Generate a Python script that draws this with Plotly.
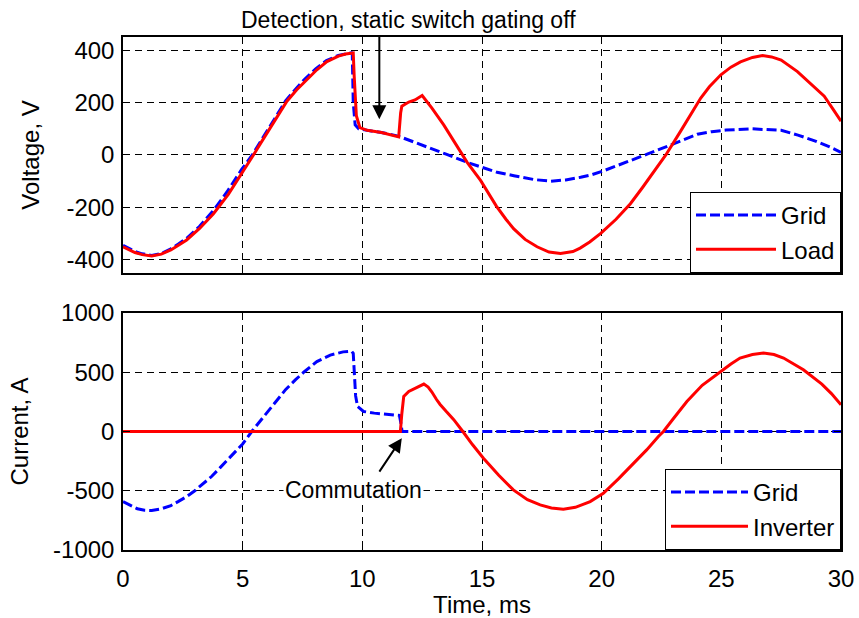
import plotly.graph_objects as go

# ---- Data (time in ms) ----
t_vgrid = [0, 0.5, 0.8, 1.2, 1.6, 2.0, 2.3, 2.66, 3.2, 3.75, 4.35, 4.95, 5.4, 5.75, 6.1, 6.45,
           6.8, 7.2, 7.6, 8.05, 8.5, 9.0, 9.3, 9.55,
           9.58, 9.62, 9.7, 9.85, 10.2, 10.8, 11.5, 12.43, 13.5, 14.38, 14.94, 15.63, 16.33,
           16.8, 17.2, 17.87, 18.5, 19.12, 19.6, 20.03, 20.6, 21.2, 21.9, 22.6, 23.3, 24.0,
           24.6, 25.2, 26.23, 26.9, 27.5, 28.2, 28.9, 29.5, 30.0]
v_grid = [-345, -368, -377, -383, -376, -358, -340, -318, -272, -215, -140, -56, 0, 52, 104, 155,
          207, 250, 290, 328, 360, 380, 387, 390,
          385, 200, 115, 100, 94, 86, 72, 41, 3, -28, -45, -66, -79,
          -88, -94, -100, -95, -85, -75, -62, -43, -22, 3, 28, 55, 79,
          89, 95, 100, 98, 94, 76, 54, 32, 10]

t_vload = [0, 0.5, 0.8, 1.2, 1.6, 2.0, 2.3, 2.66, 3.2, 3.78, 4.4, 5.0, 5.45, 5.8, 6.15, 6.5,
           6.85, 7.25, 7.68, 8.1, 8.52, 9.0, 9.3, 9.5,
           9.62, 9.66, 9.75, 9.9, 10.2, 10.8, 11.52, 11.6, 11.65, 11.94, 12.2, 12.5, 12.9, 13.4,
           13.82, 14.38, 14.94, 15.3, 15.6, 16.0, 16.33, 16.8, 17.3, 17.8, 18.28, 18.8, 19.1,
           19.5, 19.96, 20.6, 21.2, 21.7, 22.19, 22.68, 23.3, 23.7, 24.14, 24.5, 24.98, 25.4,
           25.8, 26.3, 26.72, 27.1, 27.5, 28.18, 28.7, 29.3, 29.7, 30.0]
v_load = [-350, -372, -380, -385, -378, -362, -345, -324, -280, -224, -150, -66, 0, 52, 104, 155,
          205, 248, 287, 325, 356, 377, 385, 387,
          389, 300, 150, 104, 94, 86, 69, 160, 186, 202, 210, 227, 180, 115,
          54, -28, -97, -150, -195, -245, -282, -322, -350, -370, -376, -368, -355,
          -332, -299, -245, -186, -125, -60, 0, 91, 150, 217, 260, 306, 335,
          355, 372, 379, 374, 362, 318, 275, 224, 170, 129]

t_igrid = [0, 0.3, 0.6, 0.9, 1.2, 1.6, 2.0, 2.3, 2.66, 3.0, 3.3, 3.7, 4.06, 4.6, 5.0, 5.38,
           5.8, 6.15, 6.8, 7.2, 7.55, 8.1, 8.66, 9.2,
           9.55, 9.62, 9.66, 9.72, 9.8, 10.05, 10.5, 11.0, 11.55, 11.62, 11.66, 30.0]
i_grid = [-592, -625, -652, -664, -667, -652, -625, -592, -549, -500, -450, -380, -305, -192, -105, 0,
          105, 200, 355, 435, 500, 590, 645, 672,
          678, 660, 450, 300, 211, 169, 155, 148, 135, 60, 0, 0]

t_iinv = [0, 11.59, 11.65, 11.73, 11.94, 12.3, 12.57, 12.75, 12.9, 13.1, 13.25, 13.5, 13.82,
          14.2, 14.6, 15.06, 15.7, 16.31, 16.9, 17.43, 17.9, 18.4, 18.9, 19.52, 20.07, 20.7,
          21.33, 21.88, 22.37, 22.58, 23.0, 23.56, 24.2, 24.95, 25.4, 25.78, 26.3, 26.76, 27.2,
          27.6, 28.0, 28.43, 29.2, 29.6, 30.0]
i_inv = [0, 0, 150, 296, 338, 375, 400, 375, 335, 270, 228, 170, 100,
         0, -110, -225, -370, -493, -575, -619, -645, -656, -640, -591, -521, -400,
         -267, -155, -42, 0, 110, 253, 390, 507, 570, 620, 650, 662, 650,
         620, 575, 521, 400, 320, 226]

v_ticks = [-400, -200, 0, 200, 400]
v_ticktext = ['-400', '-200', '0', '200', '400']
i_ticks = [-1000, -500, 0, 500, 1000]
i_ticktext = ['-1000', '-500', '0', '500', '1000']
t_ticks = [0, 5, 10, 15, 20, 25, 30]

BLUE = '#0000ff'
RED = '#ff0000'
FONT = 'Liberation Sans, Arial, sans-serif'
blue_line = dict(color=BLUE, width=3, dash='10px,4px')
red_line = dict(color=RED, width=3)

fig = go.Figure()
fig.add_trace(go.Scatter(x=t_vgrid, y=v_grid, name='Grid', mode='lines', line=blue_line,
                         xaxis='x', yaxis='y', legend='legend'))
fig.add_trace(go.Scatter(x=t_vload, y=v_load, name='Load', mode='lines', line=red_line,
                         xaxis='x', yaxis='y', legend='legend'))
fig.add_trace(go.Scatter(x=t_igrid, y=i_grid, name='Grid', mode='lines', line=blue_line,
                         xaxis='x2', yaxis='y2', legend='legend2'))
fig.add_trace(go.Scatter(x=t_iinv, y=i_inv, name='Inverter', mode='lines', line=red_line,
                         xaxis='x2', yaxis='y2', legend='legend2'))

axis_common = dict(showline=True, linecolor='black', linewidth=1.5, mirror='ticks',
                   ticks='inside', ticklen=7, tickcolor='black', tickwidth=1,
                   showgrid=True, gridcolor='black', gridwidth=1, griddash='7px,5px',
                   zeroline=False, automargin=False,
                   tickfont=dict(family=FONT, size=24, color='black'))

fig.update_layout(
    width=859, height=618,
    margin=dict(l=123, r=18, t=37, b=68),
    plot_bgcolor='white', paper_bgcolor='white',
    font=dict(family=FONT, size=24, color='black'),
    xaxis=dict(domain=[0, 1], anchor='y', range=[0, 30], tickvals=t_ticks, showticklabels=False,
               **axis_common),
    yaxis=dict(domain=[0.540, 1], anchor='x', range=[-450, 450], tickvals=v_ticks,
               ticktext=v_ticktext,
               title=dict(text='Voltage, V', font=dict(size=24), standoff=20),
               ticklabelstandoff=2, **axis_common),
    xaxis2=dict(domain=[0, 1], anchor='y2', range=[0, 30], tickvals=t_ticks,
                title=dict(text='Time, ms', font=dict(size=24), standoff=6),
                ticklabelstandoff=6, **axis_common),
    yaxis2=dict(domain=[0, 0.462], anchor='x2', range=[-1000, 1000], tickvals=i_ticks,
                ticktext=i_ticktext,
                title=dict(text='Current, A', font=dict(size=24), standoff=18),
                ticklabelstandoff=2, **axis_common),
    legend=dict(x=1, y=0.540, xanchor='right', yanchor='bottom', bgcolor='white',
                bordercolor='black', borderwidth=1, itemwidth=80,
                font=dict(family=FONT, size=24, color='black'), tracegroupgap=0),
    legend2=dict(x=1, y=0, xanchor='right', yanchor='bottom', bgcolor='white',
                 bordercolor='black', borderwidth=1, itemwidth=77,
                 font=dict(family=FONT, size=24, color='black'), tracegroupgap=0),
    showlegend=True,
)

fig.add_annotation(text='Detection, static switch gating off', xref='x', yref='paper',
                   x=11.91, y=1.033, showarrow=False, xanchor='center', yanchor='middle',
                   font=dict(family=FONT, size=23, color='black'))
fig.add_annotation(text='', xref='x', yref='y', x=10.71, y=136, axref='x', ayref='y',
                   ax=10.71, ay=463, showarrow=True, arrowhead=2, arrowsize=1.4,
                   arrowwidth=2, arrowcolor='black', standoff=0)
fig.add_annotation(text='Commutation', xref='x2', yref='y2', x=9.65, y=-493, showarrow=False,
                   bgcolor='white', font=dict(family=FONT, size=23, color='black'))
fig.add_annotation(text='', xref='x2', yref='y2', x=11.65, y=-56, axref='x2', ayref='y2',
                   ax=10.67, ay=-351, showarrow=True, arrowhead=2, arrowsize=1.4,
                   arrowwidth=2, arrowcolor='black', standoff=0)

fig.write_html('out.html')
